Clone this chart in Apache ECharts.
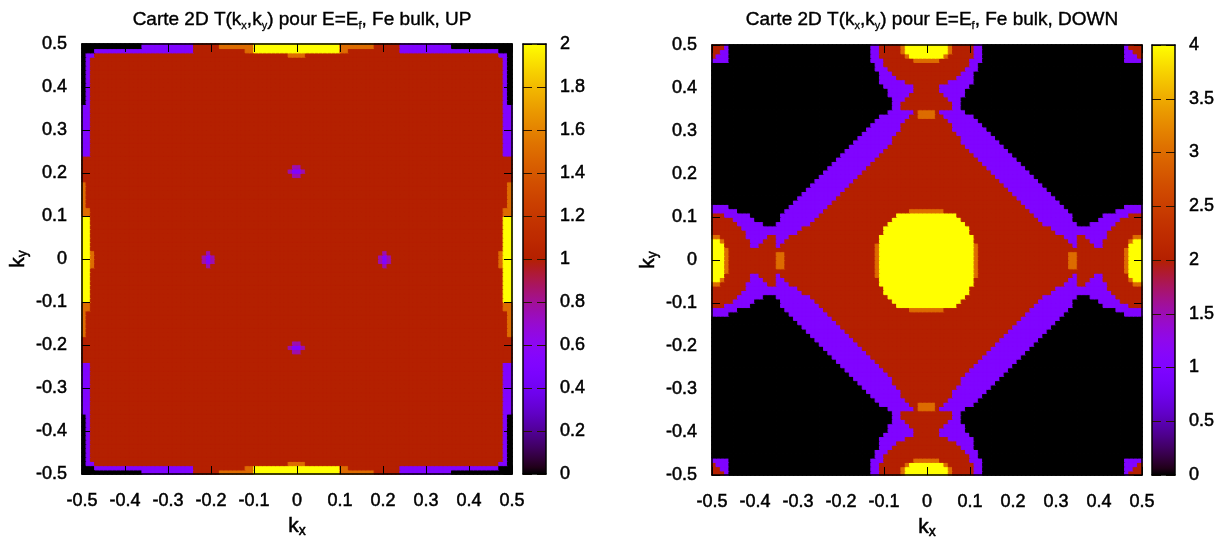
<!DOCTYPE html>
<html><head><meta charset="utf-8">
<style>html,body{margin:0;padding:0;background:#fff}#c{width:1229px;height:543px;filter:blur(0.6px)}</style>
<script src="https://cdn.jsdelivr.net/npm/echarts@6/dist/echarts.min.js"></script>
</head><body><div id="c"></div>
<script>
// Quadrant rows (centre to top), each row runs centre to edge; run-length: letter + count.
const upRows = [
"r19 m1 p1 m1 r25 o1 y2","r20 m1 r26 o1 y2",
"r48 y2","r48 y2","r48 y2","r48 y2","r48 y2","r48 y2","r48 y2","r48 y2",
"r48 o2","r48 o2",
"r49 o1","r49 o1","r49 o1","r49 o1","r49 o1","r49 o1",
"r50","m1 r49","p1 m1 r48","m1 r49","r50","r50",
"r48 p2","r48 p2","r48 p2","r48 p2","r48 p2","r48 p2","r48 p2","r48 p2","r48 p2","r48 p2","r48 p2","r48 p2",
"r48 p1 k1","r48 p1 k1","r48 p1 k1","r48 p1 k1","r48 p1 k1","r48 p1 k1","r48 p1 k1","r48 p1 k1","r48 p1 k1","r48 p1 k1","r48 p1 k1",
"o2 r45 p2 k1","y10 o2 r12 p23 k3","y10 o8 r6 p12 k14"];
const downRows = [
"y11 o1 r21 o2 r11 o1 y3","y11 o1 r21 o2 r11 o1 y3","y11 o1 r34 o1 y3",
"y11 o1 r22 p1 r4 p2 r6 y3","y11 r22 p2 r3 p3 r6 o1 y2","y11 r21 p3 r2 p5 r6 o2",
"y10 r20 p12 r8","y10 r19 p14 r7","y9 r18 p8 k3 p6 r6","y8 r18 p8 k6 p5 r5",
"y7 r18 p9 k7 p6 r3","o4 r20 p9 k11 p6","r23 p9 k14 p4","r22 p9 k19",
"r21 p9 k20","r20 p9 k21","r19 p9 k22","r18 p9 k23","r17 p9 k24","r16 p9 k25",
"r15 p9 k26","r14 p9 k27","r13 p9 k28","r12 p9 k29","r11 p9 k30","r10 p9 k31",
"r9 p9 k32","r8 p9 k33","r8 p8 k34","r7 p8 k35","r6 p8 k36","r6 p7 k37",
"r5 p7 k38","o2 r2 p7 k39","o2 r1 p6 k41","r6 p2 k42","r6 p2 k42","r5 p3 k42",
"r4 p5 k41","r3 p6 k41","r3 p7 k40","r5 p6 k39","r7 p4 k39","r8 p3 k39",
"r9 p3 k38","r10 p2 k38","o3 r7 p3 k33 p4","y4 o1 r6 p2 k33 p3 r1",
"y5 o1 r5 p2 k33 p2 r2","y5 o1 r5 p2 k33 p1 r3"];
const levels = {k:0, p:0.25, m:0.38, r:0.5, o:0.75, y:1};
const upMax = 2, downMax = 4;
const upTitle = "{a|Carte 2D T(k}{s|x}{a|,k}{s|y}{a|) pour E=E}{s|f}{a|, Fe bulk, UP}";
const downTitle = "{a|Carte 2D T(k}{s|x}{a|,k}{s|y}{a|) pour E=E}{s|f}{a|, Fe bulk, DOWN}";
const upBarInterval = 0.2, downBarInterval = 0.5;

function decode(row){ let s=""; row.split(" ").forEach(t=>{s+=t[0].repeat(+t.slice(1));}); return s; }
// gnuplot default pm3d palette (rgbformulae 7,5,15)
function pal(t){
  const r=Math.round(255*Math.sqrt(t)), g=Math.round(255*t*t*t), b=Math.round(255*Math.max(0,Math.sin(2*Math.PI*t)));
  return `rgb(${r},${g},${b})`;
}
function cells(rows,max){
  const q=rows.map(decode), out=[];
  for(let y=0;y<100;y++)for(let x=0;x<100;x++){
    const i=x>=50?x-50:49-x, j=y>=50?y-50:49-y, t=levels[q[j][i]];
    out.push({value:[x,y,t*max],itemStyle:{borderColor:pal(t),borderWidth:1}});
  }
  return out;
}
const stops=[]; for(let n=0;n<=64;n++) stops.push(pal(n/64));
const idx=[]; for(let n=0;n<100;n++) idx.push(String(n));

const FONT="Liberation Sans", INK="#000";
const heavy={textBorderColor:"#000",textBorderWidth:0.5};
const tickText={fontFamily:FONT,fontSize:18,color:INK,...heavy};
const rich={a:{fontFamily:FONT,fontSize:19,fontWeight:"normal",color:INK,lineHeight:22,textBorderColor:"#000",textBorderWidth:0.4},
            s:{fontFamily:FONT,fontSize:11,fontWeight:"normal",color:INK,verticalAlign:"bottom",lineHeight:12,padding:[8,0,0,0],textBorderColor:"#000",textBorderWidth:0.3}};
const nameRich={a:{fontFamily:FONT,fontSize:21,color:INK,lineHeight:24,...heavy},
                s:{fontFamily:FONT,fontSize:14,color:INK,verticalAlign:"bottom",lineHeight:14,padding:[9,0,0,0],...heavy}};
const line={show:true,onZero:false,lineStyle:{color:"#000",width:1.5}};

const panels=[{l:82,t:44,rows:upRows,max:upMax,bi:upBarInterval,title:upTitle,cx:297,barL:523},
              {l:712,t:45,rows:downRows,max:downMax,bi:downBarInterval,title:downTitle,cx:927,barL:1152}];
const grid=[],xAxis=[],yAxis=[],series=[],visualMap=[],title=[];
panels.forEach((p,k)=>{
  const g=grid.length;
  grid.push({left:p.l,top:p.t,width:430,height:430,containLabel:false,outerBoundsMode:"none"});
  const xi=xAxis.length, yi=yAxis.length;
  const hiddenCat={type:"category",data:idx,show:false,gridIndex:g};
  const val={type:"value",min:-0.5,max:0.5,interval:0.1,gridIndex:g,z:5,splitLine:{show:false},axisLine:line,
             axisTick:{show:true,inside:true,length:8,lineStyle:{color:"#000",width:1}}};
  xAxis.push(hiddenCat,
    {...val,position:"bottom",axisLabel:{...tickText,margin:18},name:"{a|k}{s|x}",nameLocation:"middle",nameGap:39,nameTextStyle:{rich:nameRich}},
    {...val,position:"top",axisLabel:{show:false}});
  yAxis.push(hiddenCat,
    {...val,position:"left",axisLabel:{...tickText,margin:15},name:"{a|k}{s|y}",nameLocation:"middle",nameGap:52,nameTextStyle:{rich:nameRich}},
    {...val,position:"right",axisLabel:{show:false}});
  series.push({type:"heatmap",xAxisIndex:xi,yAxisIndex:yi,data:cells(p.rows,p.max),silent:true,progressive:0,emphasis:{disabled:true}});
  visualMap.push({type:"continuous",show:false,seriesIndex:series.length-1,min:0,max:p.max,inRange:{color:stops}});
  title.push({text:p.title,left:p.cx,top:4,textAlign:"center",textStyle:{rich}});
  // colour box
  const b=grid.length;
  grid.push({left:p.barL,top:p.t,width:23,height:430,outerBoundsMode:"none"});
  const bx=xAxis.length, by=yAxis.length;
  xAxis.push({type:"category",data:["c"],gridIndex:b,z:5,axisTick:{show:false},axisLabel:{show:false},axisLine:line,position:"bottom"},
             {type:"category",data:["c"],gridIndex:b,z:5,axisTick:{show:false},axisLabel:{show:false},axisLine:line,position:"top"});
  yAxis.push({type:"value",min:0,max:p.max,interval:p.bi,gridIndex:b,z:5,position:"right",axisLine:line,axisTick:{show:false},
              axisLabel:{...tickText,margin:14},splitLine:{show:true,lineStyle:{color:"#2a1400",width:1,type:[9,5,9,0]}}},
             {type:"value",min:0,max:p.max,interval:p.bi,gridIndex:b,z:5,position:"left",axisLine:line,axisTick:{show:false},axisLabel:{show:false},splitLine:{show:false}});
  const colorStops=stops.map((c,n)=>({offset:1-n/64,color:c}));
  series.push({type:"bar",xAxisIndex:bx,yAxisIndex:by,barWidth:"100%",silent:true,data:[p.max],
    itemStyle:{color:new echarts.graphic.LinearGradient(0,0,0,1,colorStops)}});
});
const chart=echarts.init(document.getElementById("c"),null,{renderer:"canvas"});
chart.setOption({animation:false,backgroundColor:"#fff",title,grid,xAxis,yAxis,series,visualMap,tooltip:{show:false}});
</script></body></html>
